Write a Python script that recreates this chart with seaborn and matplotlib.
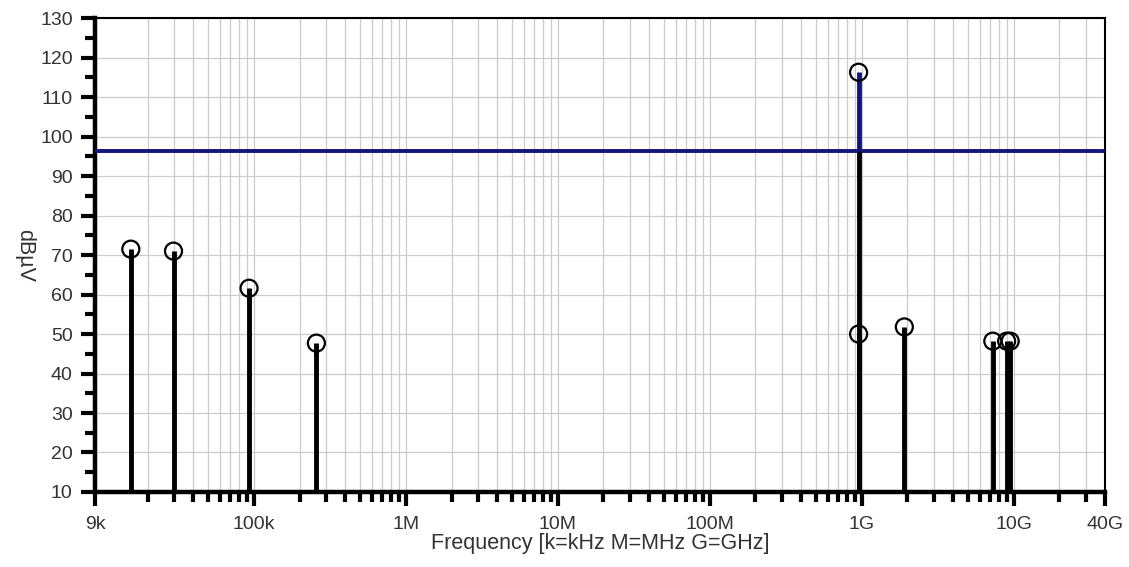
import numpy as np
import pandas as pd
import seaborn as sns
import matplotlib.pyplot as plt
from matplotlib.ticker import FixedLocator, LogLocator, NullFormatter, MultipleLocator

# Measured emission peaks (Hz, dBuV)
freqs = [15.5e3, 29.6e3, 93e3, 258e3, 0.955e9, 0.955e9, 1.91e9, 7.3e9, 9.0e9, 9.5e9]
levels = [71.5, 71.0, 61.6, 47.7, 116.3, 50.0, 51.8, 48.2, 48.2, 48.2]

limit_level = 96.3
x_ticks = [9e3, 1e5, 1e6, 1e7, 1e8, 1e9, 1e10, 4e10]
x_tick_labels = ['9k', '100k', '1M', '10M', '100M', '1G', '10G', '40G']

sns.set_style("whitegrid")
plt.rcParams['font.family'] = ['Liberation Sans', 'DejaVu Sans']
plt.rcParams['font.size'] = 14

df = pd.DataFrame({'freq': freqs, 'level': levels})

fig = plt.figure(figsize=(11.29, 5.67), dpi=100)
ax = fig.add_axes([0.0841, 0.1323, 0.8947, 0.8357])
ax.set_xscale('log')
ax.set_xlim(9e3, 4e10)
ax.set_ylim(10, 130)

# grid
ax.xaxis.set_major_locator(FixedLocator(x_ticks))
ax.xaxis.set_minor_locator(LogLocator(base=10, subs=np.arange(2, 10)))
ax.xaxis.set_minor_formatter(NullFormatter())
ax.set_xticklabels(x_tick_labels)
ax.yaxis.set_major_locator(MultipleLocator(10))
ax.yaxis.set_minor_locator(MultipleLocator(5))
ax.grid(True, which='major', color='#cccccc', lw=0.9)
ax.grid(True, which='minor', axis='x', color='#cccccc', lw=0.9)
ax.set_axisbelow(True)

# limit line
ax.axhline(limit_level, color='#14147a', lw=2.8, zorder=3)

# stems: black up to limit, navy above it
low = df['level'].clip(upper=limit_level)
ax.vlines(df['freq'], 10, low, color='black', lw=3.5, zorder=4)
over = df[df['level'] > limit_level]
ax.vlines(over['freq'], limit_level, over['level'], color='#14147a', lw=3.5, zorder=4)

sns.scatterplot(data=df, x='freq', y='level', ax=ax, marker='o', s=150,
                facecolor='none', edgecolor='black', linewidth=1.6, zorder=5, legend=False)

# spines and ticks
for side in ['top', 'right']:
    ax.spines[side].set_linewidth(1.5)
    ax.spines[side].set_color('black')
for side in ['left', 'bottom']:
    ax.spines[side].set_linewidth(3.2)
    ax.spines[side].set_color('black')
ax.tick_params(axis='both', which='both', bottom=True, left=True, top=False, right=False)
ax.tick_params(axis='both', which='major', direction='out', length=10, width=3,
               color='black', labelsize=14, labelcolor='#333333', pad=6)
ax.tick_params(axis='both', which='minor', direction='out', length=7.5, width=3, color='black')
ax.tick_params(axis='x', which='major', pad=7)

ax.set_xlabel('Frequency [k=kHz M=MHz G=GHz]', fontsize=15.5, color='#333333', labelpad=0)
ax.set_ylabel('dBµV', fontsize=15.5, color='#333333', rotation=270, labelpad=19, va='bottom')

fig.savefig('out.png', dpi=100)
